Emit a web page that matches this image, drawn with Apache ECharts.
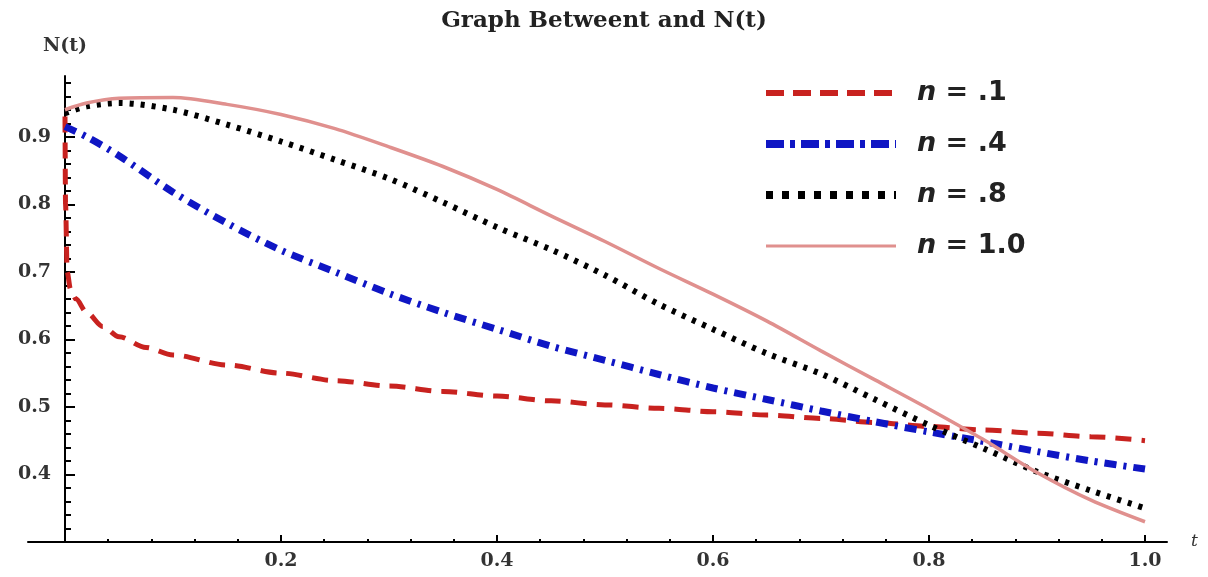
<!DOCTYPE html>
<html>
<head>
<meta charset="utf-8">
<title>Graph Betweent and N(t)</title>
<script src="https://cdn.jsdelivr.net/npm/echarts@6/dist/echarts.min.js"></script>
<style>
  html, body { margin: 0; padding: 0; background: #fff; }
  #main { width: 1208px; height: 577px; }
</style>
</head>
<body>
<div id="main"></div>
<script>
// sample points of t (dense near 0 for n = .1)
const tRed = [0, 0.0005, 0.002, 0.005, 0.01, 0.02, 0.035, 0.05, 0.075, 0.1, 0.15, 0.2, 0.25, 0.3, 0.35, 0.4, 0.45, 0.5, 0.55, 0.6, 0.65, 0.7, 0.75, 0.8, 0.85, 0.9, 0.95, 1.0]
const tCommon = [0, 0.02, 0.05, 0.1, 0.15, 0.2, 0.25, 0.3, 0.35, 0.4, 0.45, 0.5, 0.55, 0.6, 0.65, 0.7, 0.75, 0.8, 0.85, 0.9, 0.95, 1.0]

// N(t)
const n01 = [0.93, 0.8, 0.7, 0.675, 0.66, 0.64, 0.619, 0.604, 0.588, 0.577, 0.562, 0.55, 0.539, 0.531, 0.523, 0.516, 0.509, 0.503, 0.498, 0.493, 0.488, 0.483, 0.477, 0.471, 0.466, 0.461, 0.456, 0.45]
const n04 = [0.915, 0.9, 0.872, 0.818, 0.772, 0.732, 0.7, 0.668, 0.64, 0.615, 0.59, 0.569, 0.548, 0.528, 0.511, 0.494, 0.478, 0.463, 0.449, 0.434, 0.42, 0.408]
const n08 = [0.935, 0.945, 0.95, 0.94, 0.918, 0.893, 0.866, 0.838, 0.803, 0.766, 0.733, 0.695, 0.652, 0.615, 0.579, 0.549, 0.511, 0.473, 0.439, 0.404, 0.376, 0.35]
const n10 = [0.94, 0.95, 0.957, 0.958, 0.948, 0.933, 0.912, 0.885, 0.856, 0.822, 0.783, 0.745, 0.705, 0.667, 0.627, 0.583, 0.54, 0.497, 0.452, 0.403, 0.362, 0.33]

const seriesNames = ['n = .1', 'n = .4', 'n = .8', 'n = 1.0']
const seriesColors = ['#c8221f', '#0f16c4', '#000000', '#e0908e']

// y ticks (x ticks come from interval 0.2)
const yMajorTicks = [0.4, 0.5, 0.6, 0.7, 0.8, 0.9]
const yMinorTicks = []
for (let i = 1; i <= 34; i++) {
  if (i % 5 !== 0) yMinorTicks.push(+(0.3 + i * 0.02).toFixed(2))
}

const serif = "'DejaVu Serif', 'Liberation Serif', serif"
const sans = "'DejaVu Sans', 'Liberation Sans', sans-serif"

function pairs(ts, vs) {
  return ts.map((t, i) => [t, vs[i]])
}

const chart = echarts.init(document.getElementById('main'))

const lineStyles = [
  { color: seriesColors[0], width: 5, type: [16, 10] },
  { color: seriesColors[1], width: 7, type: [12, 7, 3, 7] },
  { color: seriesColors[2], width: 6, type: [4, 7] },
  { color: seriesColors[3], width: 3.5, type: 'solid' }
]
const legendLineStyles = [
  { color: seriesColors[0], width: 6, type: [18, 9] },
  { color: seriesColors[1], width: 8, type: [18, 6, 5, 6] },
  { color: seriesColors[2], width: 8, type: [7, 9] },
  { color: seriesColors[3], width: 3, type: 'solid' }
]

const option = {
  animation: false,
  backgroundColor: '#fff',
  title: {
    text: 'Graph Betweent and N(t)',
    left: 'center',
    top: 5,
    textStyle: { fontFamily: serif, fontWeight: 'bold', fontSize: 23, color: '#222' }
  },
  legend: {
    orient: 'vertical',
    left: 757,
    top: 74,
    itemWidth: 130,
    itemHeight: 14,
    itemGap: 23,
    itemStyle: { opacity: 0 },
    data: seriesNames.map((name, i) => ({ name: name, lineStyle: legendLineStyles[i], itemStyle: { opacity: 0 } })),
    formatter: name => '{g|}{i|n}' + name.slice(1),
    textStyle: {
      fontFamily: sans,
      fontWeight: 'bold',
      fontSize: 27,
      lineHeight: 28,
      color: '#222',
      rich: {
        g: { width: 16 },
        i: { fontFamily: sans, fontStyle: 'italic', fontWeight: 'bold', fontSize: 27, color: '#222' }
      }
    }
  },
  grid: [
    { left: 65, right: 63, top: 76, bottom: 35, containLabel: false, outerBoundsMode: 'none' },
    // only carries the long x axis line that runs past both ends
    { left: 28, right: 41, top: 76, bottom: 35, containLabel: false, outerBoundsMode: 'none' }
  ],
  xAxis: [
    {
      type: 'value',
      gridIndex: 0,
      min: 0,
      max: 1,
      interval: 0.2,
      axisLine: { onZero: false, lineStyle: { color: '#000', width: 2 } },
      axisTick: { inside: true, length: 7, lineStyle: { color: '#000', width: 2 } },
      minorTick: { show: true, splitNumber: 5, length: 3, lineStyle: { color: '#000', width: 2 } },
      axisLabel: {
        showMinLabel: false,
        formatter: v => (v === 0 ? '' : v.toFixed(1)),
        margin: 10,
        fontFamily: serif,
        fontWeight: 'bold',
        fontSize: 19,
        color: '#333'
      },
      splitLine: { show: false },
      minorSplitLine: { show: false }
    },
    {
      type: 'value',
      gridIndex: 1,
      min: 0,
      max: 1,
      name: 't',
      nameLocation: 'end',
      nameGap: 24,
      nameTextStyle: { fontFamily: serif, fontStyle: 'italic', fontSize: 17, color: '#333', padding: [0, 0, 10, 0] },
      axisLine: { onZero: false, lineStyle: { color: '#000', width: 2 } },
      axisTick: { show: false },
      axisLabel: { show: false },
      splitLine: { show: false }
    }
  ],
  yAxis: [
    {
      type: 'value',
      gridIndex: 0,
      min: 0.3,
      max: 0.99,
      position: 'left',
      name: 'N(t)',
      nameLocation: 'end',
      nameGap: 20,
      nameTextStyle: { fontFamily: serif, fontWeight: 'bold', fontSize: 19, color: '#333', align: 'center' },
      axisLine: { onZero: false, lineStyle: { color: '#000', width: 2 } },
      axisTick: { inside: true, length: 10, customValues: yMajorTicks, lineStyle: { color: '#000', width: 2 } },
      axisLabel: {
        customValues: yMajorTicks,
        formatter: v => v.toFixed(1),
        margin: 14,
        fontFamily: serif,
        fontWeight: 'bold',
        fontSize: 19,
        color: '#333'
      },
      splitLine: { show: false }
    },
    {
      type: 'value',
      gridIndex: 0,
      min: 0.3,
      max: 0.99,
      position: 'left',
      axisLine: { show: false, onZero: false },
      axisTick: { inside: true, length: 6, customValues: yMinorTicks, lineStyle: { color: '#000', width: 2 } },
      axisLabel: { show: false },
      splitLine: { show: false }
    },
    {
      type: 'value',
      gridIndex: 1,
      min: 0.3,
      max: 0.99,
      show: false
    }
  ],
  series: [
    {
      name: seriesNames[0],
      type: 'line',
      symbol: 'none',
      smooth: 0.3,
      smoothMonotone: 'x',
      data: pairs(tRed, n01),
      lineStyle: lineStyles[0],
      itemStyle: { color: seriesColors[0] }
    },
    {
      name: seriesNames[1],
      type: 'line',
      symbol: 'none',
      smooth: 0.3,
      data: pairs(tCommon, n04),
      lineStyle: lineStyles[1],
      itemStyle: { color: seriesColors[1] }
    },
    {
      name: seriesNames[2],
      type: 'line',
      symbol: 'none',
      smooth: 0.3,
      data: pairs(tCommon, n08),
      lineStyle: lineStyles[2],
      itemStyle: { color: seriesColors[2] }
    },
    {
      name: seriesNames[3],
      type: 'line',
      symbol: 'none',
      smooth: 0.3,
      data: pairs(tCommon, n10),
      lineStyle: lineStyles[3],
      itemStyle: { color: seriesColors[3] }
    }
  ]
}

chart.setOption(option)
</script>
</body>
</html>
